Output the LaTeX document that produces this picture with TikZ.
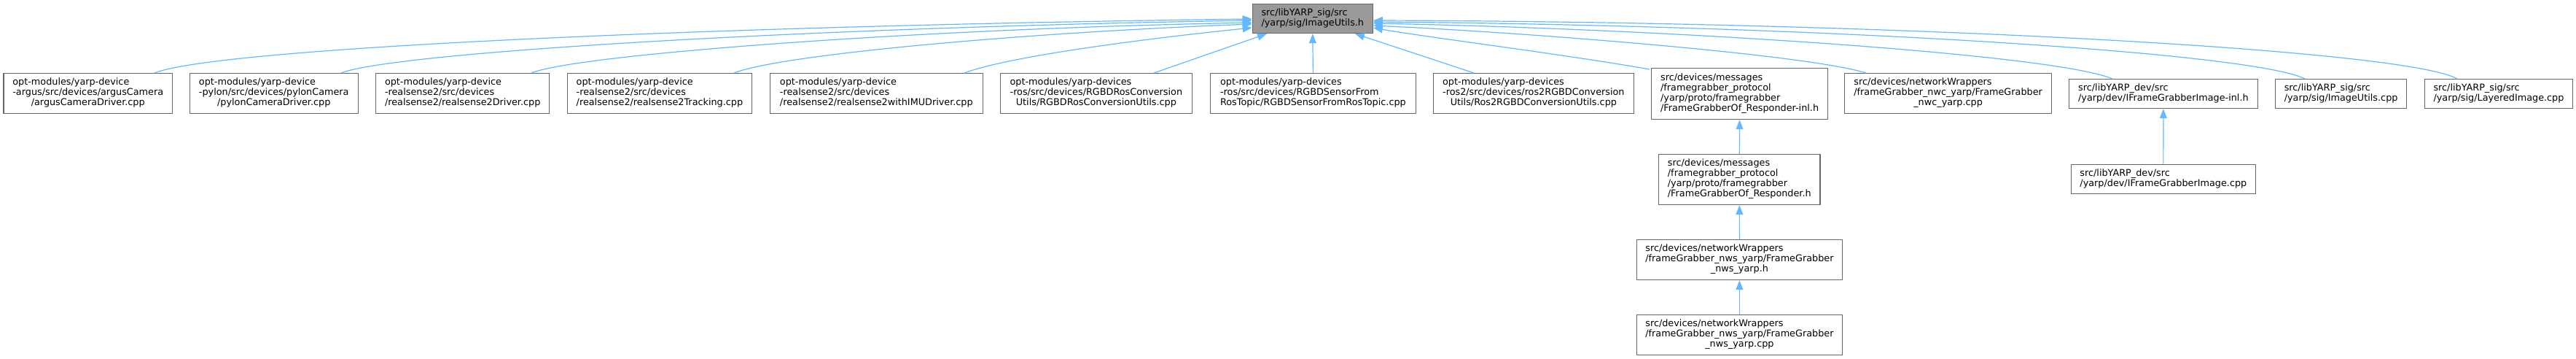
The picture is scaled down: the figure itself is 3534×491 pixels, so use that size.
\documentclass[tikz,border=0pt]{standalone}
\usepackage{fontspec}
\setmainfont{DejaVu Sans}
\usetikzlibrary{arrows.meta,calc}
\definecolor{edgeblue}{HTML}{63B8FF}
\definecolor{boxline}{HTML}{666666}
\definecolor{topfill}{HTML}{999999}
\newcommand\lbl[2]{\begin{tabular}{@{}l@{}}#1\\\multicolumn{1}{@{}c@{}}{#2}\end{tabular}}
\tikzset{
  filebox/.style={draw=boxline, line width=1.2pt, fill=white, inner sep=0pt, anchor=north west},
  topbox/.style={filebox, fill=topfill},
  dep/.style={draw=edgeblue, line width=1.2pt, -{Triangle[length=13pt,width=10pt]}}
}
\begin{document}
\begin{tikzpicture}[x=1pt,y=-1pt, font=\fontsize{12.8}{14}\selectfont]
\useasboundingbox (0,0) rectangle (3534,491);
\node[topbox, minimum width=165pt, minimum height=40pt] (t) at (1717.7,5) {\lbl{src/libYARP\_sig/src}{/yarp/sig/ImageUtils.h}};

\node[filebox, minimum width=231.7pt, minimum height=55pt] (b1) at (4.3,100) {\lbl{opt-modules/yarp-device\\-argus/src/devices/argusCamera}{/argusCameraDriver.cpp}};
\node[filebox, minimum width=231.3pt, minimum height=55pt] (b2) at (259.5,100) {\lbl{opt-modules/yarp-device\\-pylon/src/devices/pylonCamera}{/pylonCameraDriver.cpp}};
\node[filebox, minimum width=238.2pt, minimum height=55pt] (b3) at (515,100) {\lbl{opt-modules/yarp-device\\-realsense2/src/devices}{/realsense2/realsense2Driver.cpp}};
\node[filebox, minimum width=253.7pt, minimum height=55pt] (b4) at (777.5,100) {\lbl{opt-modules/yarp-device\\-realsense2/src/devices}{/realsense2/realsense2Tracking.cpp}};
\node[filebox, minimum width=291.5pt, minimum height=55pt] (b5) at (1056,100) {\lbl{opt-modules/yarp-device\\-realsense2/src/devices}{/realsense2/realsense2withIMUDriver.cpp}};
\node[filebox, minimum width=263.3pt, minimum height=55pt] (b6) at (1371.6,100) {\lbl{opt-modules/yarp-devices\\-ros/src/devices/RGBDRosConversion}{Utils/RGBDRosConversionUtils.cpp}};
\node[filebox, minimum width=282.4pt, minimum height=55pt] (b7) at (1659.6,100) {\lbl{opt-modules/yarp-devices\\-ros/src/devices/RGBDSensorFrom}{RosTopic/RGBDSensorFromRosTopic.cpp}};
\node[filebox, minimum width=274.5pt, minimum height=55pt] (b8) at (1966,100) {\lbl{opt-modules/yarp-devices\\-ros2/src/devices/ros2RGBDConversion}{Utils/Ros2RGBDConversionUtils.cpp}};
\node[filebox, minimum width=242pt, minimum height=70pt] (b9) at (2265,93) {\lbl{src/devices/messages\\/framegrabber\_protocol\\/yarp/proto/framegrabber}{/FrameGrabberOf\_Responder-inl.h}};
\node[filebox, minimum width=284pt, minimum height=55pt] (b10) at (2530,100) {\lbl{src/devices/networkWrappers\\/frameGrabber\_nwc\_yarp/FrameGrabber}{\_nwc\_yarp.cpp}};
\node[filebox, minimum width=259.2pt, minimum height=40pt] (b11) at (2837.7,108) {\lbl{src/libYARP\_dev/src}{/yarp/dev/IFrameGrabberImage-inl.h}};
\node[filebox, minimum width=180pt, minimum height=40pt] (b12) at (3121,108) {\lbl{src/libYARP\_sig/src}{/yarp/sig/ImageUtils.cpp}};
\node[filebox, minimum width=203.3pt, minimum height=40pt] (b13) at (3325.7,108) {\lbl{src/libYARP\_sig/src}{/yarp/sig/LayeredImage.cpp}};
\node[filebox, minimum width=252.5pt, minimum height=40pt] (b14) at (2841,225) {\lbl{src/libYARP\_dev/src}{/yarp/dev/IFrameGrabberImage.cpp}};
\node[filebox, minimum width=221.4pt, minimum height=69pt] (b15) at (2275,211) {\lbl{src/devices/messages\\/framegrabber\_protocol\\/yarp/proto/framegrabber}{/FrameGrabberOf\_Responder.h}};
\node[filebox, minimum width=282.4pt, minimum height=55pt] (b16) at (2244.6,328) {\lbl{src/devices/networkWrappers\\/frameGrabber\_nws\_yarp/FrameGrabber}{\_nws\_yarp.h}};
\node[filebox, minimum width=282.4pt, minimum height=55pt] (b17) at (2244.6,431) {\lbl{src/devices/networkWrappers\\/frameGrabber\_nws\_yarp/FrameGrabber}{\_nws\_yarp.cpp}};

% edges into the top node
\draw[dep] ($(b1.north west)+(207.7,0)$) .. controls (300,65) and (1000,35) .. ($(t.north west)+(0,21)$);
\draw[dep] ($(b2.north west)+(208.5,0)$) .. controls (540,72) and (1100,38) .. ($(t.north west)+(0,23)$);
\draw[dep] ($(b3.north west)+(214,0)$) .. controls (790,75) and (1250,40) .. ($(t.north west)+(0,26)$);
\draw[dep] ($(b4.north west)+(229.5,0)$) .. controls (1070,75) and (1400,45) .. ($(t.north west)+(0,28)$);
\draw[dep] ($(b5.north west)+(267,0)$) .. controls (1390,75) and (1600,50) .. ($(t.north west)+(0,33)$);
\draw[dep] ($(b6.north west)+(211.4,0)$) -- ($(t.south west)+(20.3,0)$);
\draw[dep] (b7.north) -- (t.south);
\draw[dep] ($(b8.north west)+(56,0)$) -- ($(t.south east)+(-25,0)$);
\draw[dep] ($(b9.north west)+(-2,2)$) .. controls (2150,75) and (1950,50) .. ($(t.north east)+(0,33)$);
\draw[dep] ($(b10.north west)+(30,0)$) .. controls (2480,75) and (2100,45) .. ($(t.north east)+(0,30)$);
\draw[dep] ($(b11.north west)+(60.3,0)$) .. controls (2820,75) and (2300,40) .. ($(t.north east)+(0,27)$);
\draw[dep] ($(b12.north west)+(41,0)$) .. controls (3090,72) and (2500,35) .. ($(t.north east)+(0,25)$);
\draw[dep] ($(b13.north west)+(45.3,0)$) .. controls (3300,68) and (2600,30) .. ($(t.north east)+(0,23)$);

% chains
\draw[dep] (b15.north) -- (b9.south);
\draw[dep] (b16.north) -- (b15.south);
\draw[dep] (b17.north) -- (b16.south);
\draw[dep] (b14.north) -- (b11.south);
\end{tikzpicture}
\end{document}
